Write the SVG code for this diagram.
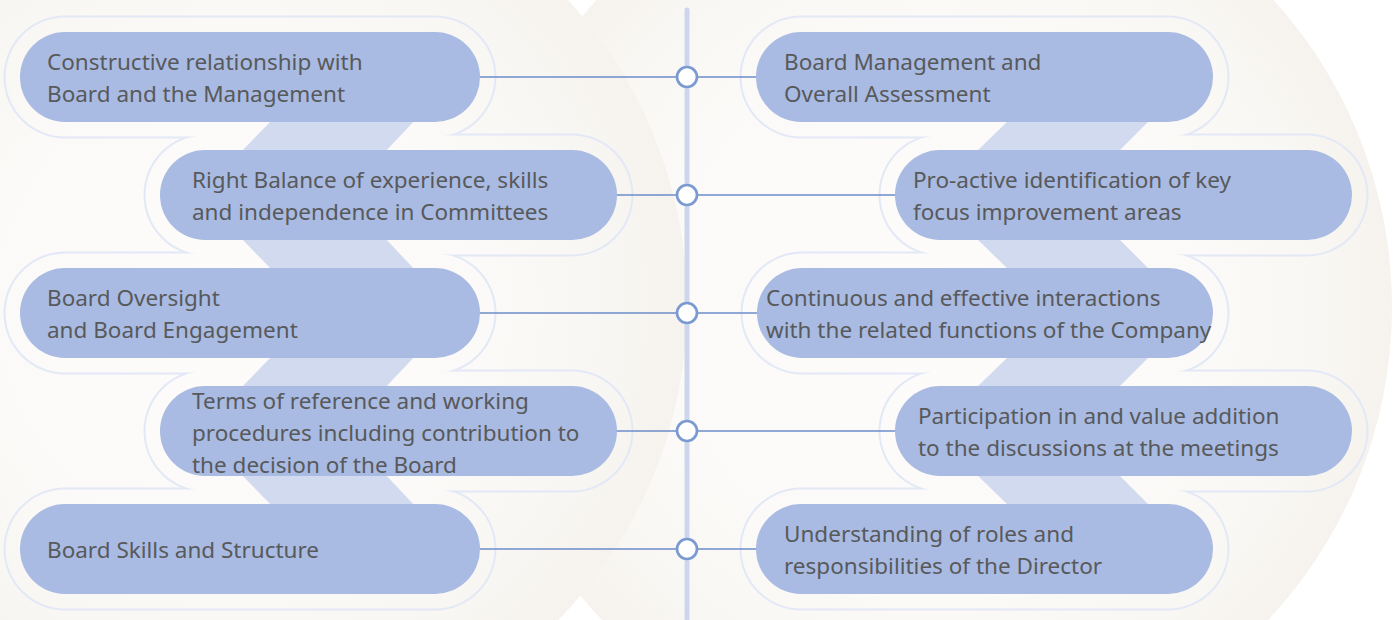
<svg xmlns="http://www.w3.org/2000/svg" width="1394" height="620" viewBox="0 0 1394 620">
  <style>
    .pill { fill: #a9bbe2; }
    .band { fill: #d1daef; }
    .lbl { font-family: "Noto Sans", "Open Sans", "DejaVu Sans", sans-serif; font-size: 22.5px; fill: #58595b; }
    .conn { stroke: #6c8dc8; stroke-width: 1.4; fill: none; }
    .dot { fill: #ffffff; stroke: #7b9ad2; stroke-width: 2.7; }
    .ho { fill: #ffffff; }
    .hi { fill: #000000; }
  </style>
  <defs>
    <radialGradient id="gL" cx="237" cy="305" r="450" gradientUnits="userSpaceOnUse">
      <stop offset="0" stop-color="#fdfcfb"/>
      <stop offset="0.55" stop-color="#fbfaf8"/>
      <stop offset="0.85" stop-color="#f8f6f2"/>
      <stop offset="1" stop-color="#f6f3ee"/>
    </radialGradient>
    <radialGradient id="gR" cx="935" cy="307" r="457" gradientUnits="userSpaceOnUse">
      <stop offset="0" stop-color="#fdfcfb"/>
      <stop offset="0.6" stop-color="#fbfaf8"/>
      <stop offset="0.85" stop-color="#f9f7f3"/>
      <stop offset="1" stop-color="#f6f3ee"/>
    </radialGradient>
    <mask id="haloMask" maskUnits="userSpaceOnUse" x="0" y="0" width="1394" height="620">
      <rect x="0" y="0" width="1394" height="620" fill="#000"/>
      <!-- outer outlines -->
      <rect class="ho" x="3.5" y="15.5" width="493" height="123" rx="61.5"/>
      <rect class="ho" x="143.5" y="133.5" width="490" height="123" rx="61.5"/>
      <rect class="ho" x="3.5" y="251.5" width="493" height="123" rx="61.5"/>
      <rect class="ho" x="143.5" y="369.5" width="490" height="123" rx="61.5"/>
      <rect class="ho" x="3.5" y="487.5" width="493" height="123" rx="61.5"/>
      <rect class="ho" x="739.5" y="15.5" width="490" height="123" rx="61.5"/>
      <rect class="ho" x="878.5" y="133.5" width="490" height="123" rx="61.5"/>
      <rect class="ho" x="740.5" y="251.5" width="489" height="123" rx="61.5"/>
      <rect class="ho" x="878.5" y="369.5" width="490" height="123" rx="61.5"/>
      <rect class="ho" x="739.5" y="487.5" width="490" height="123" rx="61.5"/>
      <!-- inner cut-outs -->
      <rect class="hi" x="5.5" y="17.5" width="489" height="119" rx="59.5"/>
      <rect class="hi" x="145.5" y="135.5" width="486" height="119" rx="59.5"/>
      <rect class="hi" x="5.5" y="253.5" width="489" height="119" rx="59.5"/>
      <rect class="hi" x="145.5" y="371.5" width="486" height="119" rx="59.5"/>
      <rect class="hi" x="5.5" y="489.5" width="489" height="119" rx="59.5"/>
      <rect class="hi" x="741.5" y="17.5" width="486" height="119" rx="59.5"/>
      <rect class="hi" x="880.5" y="135.5" width="486" height="119" rx="59.5"/>
      <rect class="hi" x="742.5" y="253.5" width="485" height="119" rx="59.5"/>
      <rect class="hi" x="880.5" y="371.5" width="486" height="119" rx="59.5"/>
      <rect class="hi" x="741.5" y="489.5" width="486" height="119" rx="59.5"/>
    </mask>
  </defs>

  <!-- background -->
  <rect x="0" y="0" width="1394" height="620" fill="#ffffff"/>
  <circle cx="935" cy="307" r="457" fill="url(#gR)"/>
  <circle cx="237" cy="305" r="450" fill="url(#gL)"/>

  <!-- halo outlines -->
  <rect x="0" y="0" width="1394" height="620" fill="#e2e8f6" mask="url(#haloMask)"/>

  <!-- zigzag bands -->
  <g id="bands">
    <polygon class="band" points="274,118 417,118 383,154 239,154"/>
    <polygon class="band" points="239,236 383,236 417,272 274,272"/>
    <polygon class="band" points="274,354 417,354 383,390 239,390"/>
    <polygon class="band" points="239,472 383,472 417,508 274,508"/>
    <polygon class="band" points="1011,118 1152,118 1116,154 974,154"/>
    <polygon class="band" points="974,236 1116,236 1152,272 1011,272"/>
    <polygon class="band" points="1011,354 1152,354 1116,390 974,390"/>
    <polygon class="band" points="974,472 1116,472 1152,508 1011,508"/>
  </g>

  <!-- connectors -->
  <g id="connectors">
    <line x1="687" y1="10" x2="687" y2="625" stroke="#ccd7ee" stroke-width="5" stroke-linecap="round"/>
    <line class="conn" x1="478" y1="77" x2="758" y2="77"/>
    <line class="conn" x1="615" y1="195" x2="897" y2="195"/>
    <line class="conn" x1="478" y1="313" x2="759" y2="313"/>
    <line class="conn" x1="615" y1="431" x2="897" y2="431"/>
    <line class="conn" x1="478" y1="549" x2="758" y2="549"/>
    <circle class="dot" cx="687" cy="77" r="10"/>
    <circle class="dot" cx="687" cy="195" r="10"/>
    <circle class="dot" cx="687" cy="313" r="10"/>
    <circle class="dot" cx="687" cy="431" r="10"/>
    <circle class="dot" cx="687" cy="549" r="10"/>
  </g>

  <!-- left nodes -->
  <g id="node-l1">
    <rect class="pill" x="20" y="32" width="460" height="90" rx="45"/>
    <text class="lbl" x="47" y="69.5">Constructive relationship with</text>
    <text class="lbl" x="47" y="101.5">Board and the Management</text>
  </g>
  <g id="node-l2">
    <rect class="pill" x="160" y="150" width="457" height="90" rx="45"/>
    <text class="lbl" x="192" y="188">Right Balance of experience, skills</text>
    <text class="lbl" x="192" y="220">and independence in Committees</text>
  </g>
  <g id="node-l3">
    <rect class="pill" x="20" y="268" width="460" height="90" rx="45"/>
    <text class="lbl" x="47" y="305.5">Board Oversight</text>
    <text class="lbl" x="47" y="337.5">and Board Engagement</text>
  </g>
  <g id="node-l4">
    <rect class="pill" x="160" y="386" width="457" height="90" rx="45"/>
    <text class="lbl" x="192" y="409">Terms of reference and working</text>
    <text class="lbl" x="192" y="441">procedures including contribution to</text>
    <text class="lbl" x="192" y="473">the decision of the Board</text>
  </g>
  <g id="node-l5">
    <rect class="pill" x="20" y="504" width="460" height="90" rx="45"/>
    <text class="lbl" x="47" y="558">Board Skills and Structure</text>
  </g>

  <!-- right nodes -->
  <g id="node-r1">
    <rect class="pill" x="756" y="32" width="457" height="90" rx="45"/>
    <text class="lbl" x="784" y="69.5">Board Management and</text>
    <text class="lbl" x="784" y="101.5">Overall Assessment</text>
  </g>
  <g id="node-r2">
    <rect class="pill" x="895" y="150" width="457" height="90" rx="45"/>
    <text class="lbl" x="913" y="188">Pro-active identification of key</text>
    <text class="lbl" x="913" y="220">focus improvement areas</text>
  </g>
  <g id="node-r3">
    <rect class="pill" x="757" y="268" width="456" height="90" rx="45"/>
    <text class="lbl" x="766" y="305.5">Continuous and effective interactions</text>
    <text class="lbl" x="766" y="337.5">with the related functions of the Company</text>
  </g>
  <g id="node-r4">
    <rect class="pill" x="895" y="386" width="457" height="90" rx="45"/>
    <text class="lbl" x="918" y="423.5">Participation in and value addition</text>
    <text class="lbl" x="918" y="455.5">to the discussions at the meetings</text>
  </g>
  <g id="node-r5">
    <rect class="pill" x="756" y="504" width="457" height="90" rx="45"/>
    <text class="lbl" x="784" y="541.5">Understanding of roles and</text>
    <text class="lbl" x="784" y="573.5">responsibilities of the Director</text>
  </g>
</svg>
